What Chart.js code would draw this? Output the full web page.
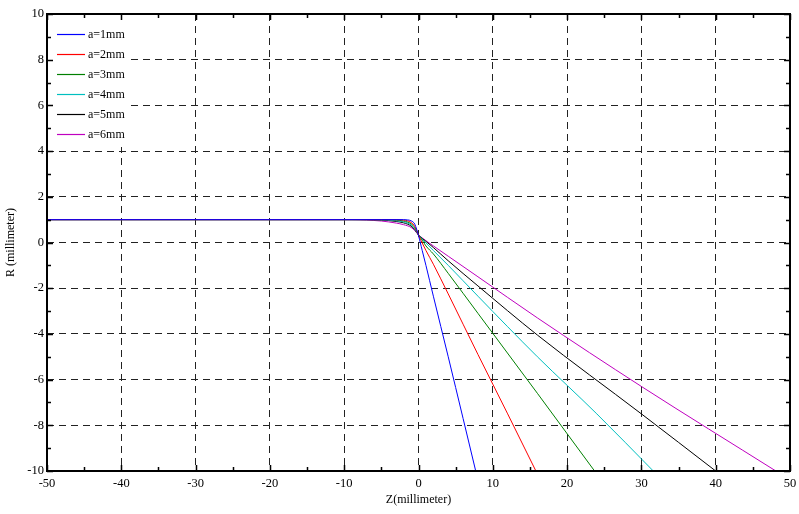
<!DOCTYPE html>
<html>
<head>
<meta charset="utf-8">
<script src="https://cdn.jsdelivr.net/npm/chart.js@4/dist/chart.umd.min.js"></script>
<style>
html,body{margin:0;padding:0;background:#fff;}
#wrap{width:799px;height:514px;position:relative;}
</style>
</head>
<body>
<div id="wrap"><canvas id="c" width="799" height="514"></canvas></div>
<script>
// ---- data ----
const seriesLabels = ["a=1mm", "a=2mm", "a=3mm", "a=4mm", "a=5mm", "a=6mm"];
const seriesColors = ["#0000ff", "#ff0000", "#008000", "#00bfbf", "#000000", "#bf00bf"];

const zA1 = [-50, -15, -5, -2, -1.5, -1, -0.5, 0, 0.5, 1, 2, 4, 6, 7.7];
const rA1 = [1, 1, 1, 1, 0.99, 0.95, 0.8, 0.3, -0.35, -1.0, -2.35, -5.0, -7.7, -10];

const zA2 = [-50, -15, -5, -3, -2, -1.5, -1, -0.5, 0, 0.5, 1, 2, 4, 8, 12, 15.8];
const rA2 = [1, 1, 1, 1, 0.98, 0.95, 0.88, 0.7, 0.32, -0.02, -0.35, -0.95, -2.25, -4.9, -7.5, -10];

const zA3 = [-50, -15, -6, -4, -3, -2, -1, -0.5, 0, 0.5, 1, 2, 4, 8, 16, 23.7];
const rA3 = [1, 1, 1, 1, 0.98, 0.94, 0.82, 0.65, 0.33, 0.1, -0.15, -0.5, -1.35, -3.1, -6.6, -10];

const zA4 = [-50, -15, -6, -4, -3, -2, -1, -0.5, 0, 0.5, 1, 2, 4, 8, 16, 24, 31.6];
const rA4 = [1, 1, 1, 0.98, 0.95, 0.9, 0.77, 0.6, 0.33, 0.15, -0.02, -0.35, -1.0, -2.35, -5.0, -7.5, -10];

const zA5 = [-50, -15, -7, -5, -4, -3, -2, -1, -0.5, 0, 0.5, 1, 2, 4, 8, 16, 30, 40];
const rA5 = [1, 1, 1, 0.98, 0.96, 0.92, 0.86, 0.72, 0.56, 0.33, 0.18, 0.05, -0.22, -0.8, -1.9, -4.05, -7.5, -10];

const zA6 = [-50, -15, -9, -7, -5, -4, -3, -2, -1, -0.5, 0, 0.5, 1, 2, 4, 8, 16, 30, 48.1];
const rA6 = [1, 1, 1, 0.98, 0.94, 0.9, 0.85, 0.78, 0.66, 0.52, 0.33, 0.2, 0.08, -0.15, -0.6, -1.5, -3.3, -6.3, -10];

const xTickStep = 10, xMinorStep = 5;
const yTickStep = 2, yMinorStep = 1;
const xTitle = "Z(millimeter)";
const yTitle = "R (millimeter)";

// ---- build ----
const zs = [zA1, zA2, zA3, zA4, zA5, zA6];
const rs = [rA1, rA2, rA3, rA4, rA5, rA6];
const datasets = seriesLabels.map((lab, i) => ({
  label: lab,
  data: zs[i].map((z, k) => ({x: z, y: rs[i][k]})),
  borderColor: seriesColors[i],
  backgroundColor: seriesColors[i],
  borderWidth: 1,
  pointRadius: 0,
  fill: false,
  cubicInterpolationMode: 'monotone'
}));

const FONT = "'Liberation Serif', 'Times New Roman', serif";

const framePlugin = {
  id: 'frame',
  beforeDatasetsDraw(chart) {
    // white legend background covering the grid
    const ctx = chart.ctx, a = chart.chartArea;
    ctx.save();
    ctx.fillStyle = '#fff';
    ctx.fillRect(a.left + 1, a.top + 1, 82, 132);
    ctx.restore();
  },
  afterDraw(chart) {
    const ctx = chart.ctx;
    const a = chart.chartArea;
    const xs = chart.scales.x, ys = chart.scales.y;
    ctx.save();
    ctx.strokeStyle = '#000';
    // inward ticks
    ctx.lineWidth = 1.5;
    ctx.beginPath();
    for (let v = xs.min; v <= xs.max + 1e-9; v += xMinorStep) {
      const px = Math.round(xs.getPixelForValue(v)) + 0.5;
      const major = Math.abs(v / xTickStep - Math.round(v / xTickStep)) < 1e-6;
      const len = major ? 6 : 4;
      ctx.moveTo(px, a.bottom); ctx.lineTo(px, a.bottom - len);
      ctx.moveTo(px, a.top); ctx.lineTo(px, a.top + len);
    }
    for (let v = ys.min; v <= ys.max + 1e-9; v += yMinorStep) {
      const py = Math.round(ys.getPixelForValue(v)) + 0.5;
      const major = Math.abs(v / yTickStep - Math.round(v / yTickStep)) < 1e-6;
      const len = major ? 6 : 4;
      ctx.moveTo(a.left, py); ctx.lineTo(a.left + len, py);
      ctx.moveTo(a.right, py); ctx.lineTo(a.right - len, py);
    }
    ctx.stroke();
    // frame
    ctx.lineWidth = 2;
    ctx.strokeRect(a.left, a.top, a.right - a.left, a.bottom - a.top);
    // legend
    ctx.font = "12px " + FONT;
    ctx.textBaseline = 'middle';
    ctx.textAlign = 'left';
    chart.data.datasets.forEach((ds, i) => {
      const y = a.top + 20 + i * 20;
      ctx.strokeStyle = ds.borderColor;
      ctx.lineWidth = 1.2;
      ctx.beginPath();
      ctx.moveTo(a.left + 10, y + 0.5);
      ctx.lineTo(a.left + 38, y + 0.5);
      ctx.stroke();
      ctx.fillStyle = '#000';
      ctx.fillText(ds.label, a.left + 41, y + 1);
    });
    ctx.restore();
  }
};

new Chart(document.getElementById('c'), {
  type: 'line',
  data: { datasets },
  plugins: [framePlugin],
  options: {
    responsive: false,
    animation: false,
    events: [],
    layout: { padding: { left: 0, right: 9, top: 14, bottom: 0 } },
    plugins: { legend: { display: false }, tooltip: { enabled: false } },
    scales: {
      x: {
        type: 'linear',
        min: -50, max: 50,
        afterFit(s) { s.height = 43; s.paddingRight = 0; s.paddingLeft = 0; },
        ticks: { stepSize: xTickStep, color: '#000', padding: 5, maxRotation: 0,
                 font: { family: FONT, size: 12.5 } },
        grid: {
          drawTicks: false,
          lineWidth: 1,
          color: c => (c.tick && (c.tick.value === -50 || c.tick.value === 50)) ? 'rgba(0,0,0,0)' : '#222'
        },
        border: { display: false, dash: [7, 5] },
        title: { display: true, text: xTitle, color: '#000', padding: { top: 2, bottom: 7 },
                 font: { family: FONT, size: 12 } }
      },
      y: {
        type: 'linear',
        min: -10, max: 10,
        afterFit(s) { s.width = 47; s.paddingTop = 0; s.paddingBottom = 0; },
        ticks: { stepSize: yTickStep, color: '#000', padding: 3,
                 font: { family: FONT, size: 12.5 } },
        grid: {
          drawTicks: false,
          lineWidth: 1,
          color: c => (c.tick && (c.tick.value === -10 || c.tick.value === 10)) ? 'rgba(0,0,0,0)' : '#222'
        },
        border: { display: false, dash: [7, 5] },
        title: { display: true, text: yTitle, color: '#000', padding: { top: 4, bottom: 4 },
                 font: { family: FONT, size: 12 } }
      }
    }
  }
});
</script>
</body>
</html>
